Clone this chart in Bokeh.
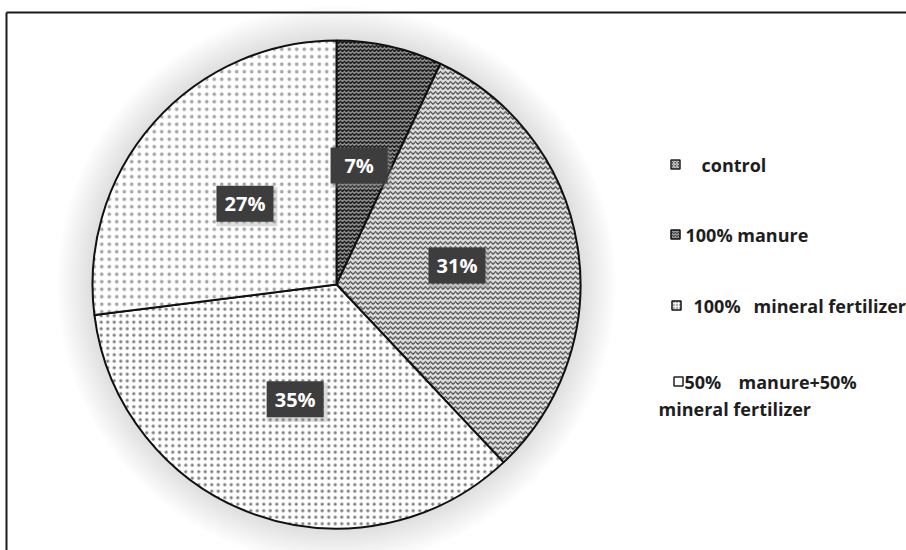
import numpy as np
from bokeh.plotting import figure
from bokeh.models import Range1d
from bokeh.core.properties import value
from bokeh.embed import file_html
from bokeh.resources import INLINE

# ---- data ----
categories = ["control", "100% manure", "100% mineral fertilizer", "50% manure+50% mineral fertilizer"]
values = [7, 31, 35, 27]
pct_labels = ["7%", "31%", "35%", "27%"]

# ---- layout / style ----
W, H = 906, 550
cx, cy = 336, H - 284
R = 244
FONT = "Open Sans"

p = figure(width=W, height=H, x_range=Range1d(0, W), y_range=Range1d(0, H),
           output_backend="svg", toolbar_location=None, min_border=0)
p.axis.visible = False
p.grid.visible = False
p.outline_line_color = None
p.background_fill_color = "white"
p.border_fill_color = "white"

# frame (left and top borders only visible)
p.segment(x0=[6, 6], y0=[H - 12, H - 12], x1=[6, W], y1=[0, H - 12],
          line_color="#1a1a1a", line_width=2)

# soft glow around the pie
for k in range(16, 0, -1):
    p.circle(x=[cx], y=[cy], radius=R + 2.2 * k, fill_color="#8a8a8a",
             fill_alpha=0.016, line_color=None)

vals = np.array(values, dtype=float)
frac = vals / vals.sum()
cum = np.cumsum(frac)
prev = np.concatenate([[0], cum[:-1]])
start = np.pi / 2 - 2 * np.pi * prev
end = np.pi / 2 - 2 * np.pi * cum
mid = (start + end) / 2

styles = [
    dict(fill_color="#8c8c8c", hatch_pattern="horizontal_wave", hatch_color="#1c1c1c", hatch_scale=4, hatch_weight=1.4),
    dict(fill_color="#dcdcdc", hatch_pattern="horizontal_wave", hatch_color="#5a5a5a", hatch_scale=5, hatch_weight=1.3),
    dict(fill_color="#ffffff", hatch_pattern="dot", hatch_color="#7e7e7e", hatch_scale=6.5, hatch_weight=2.6),
    dict(fill_color="#ffffff", hatch_pattern="dot", hatch_color="#a6a6a6", hatch_scale=7.5, hatch_weight=2.4),
]

for i in range(len(values)):
    p.wedge(x=[cx], y=[cy], radius=R, start_angle=[start[i]], end_angle=[end[i]],
            direction="clock", line_color="#111111", line_width=2, **styles[i])

# percentage labels
lr = 0.5 * R
lx = cx + lr * np.cos(mid)
ly = cy + lr * np.sin(mid)
lx[0] -= 4
p.rect(x=lx + 2, y=ly - 3, width=61, height=39, fill_color="#888888", fill_alpha=0.3, line_color=None)
p.rect(x=lx, y=ly, width=57, height=36, fill_color="#3d3d3d", line_color=None)
p.text(x=lx, y=ly, text=pct_labels, text_color="white", text_font=value(FONT),
       text_font_style="bold", text_font_size="20px", text_align="center", text_baseline="middle")

# legend
mk_x = [675, 675, 676, 678]
mk_y = [H - 164, H - 234, H - 305, H - 381]
mk_styles = [
    dict(fill_color="#555555", hatch_pattern="right_diagonal_line", hatch_color="#dddddd", hatch_scale=3, hatch_weight=1, line_color="#222222"),
    dict(fill_color="#999999", hatch_pattern="horizontal_wave", hatch_color="#222222", hatch_scale=3, hatch_weight=1, line_color="#111111"),
    dict(fill_color="#eeeeee", hatch_pattern="dot", hatch_color="#555555", hatch_scale=3, hatch_weight=1, line_color="#111111"),
    dict(fill_color="#ffffff", line_color="#222222"),
]
for i in range(4):
    p.rect(x=[mk_x[i]], y=[mk_y[i]], width=9, height=9, line_width=1.5, **mk_styles[i])

leg_text = ["control", "100% manure", "100%", "mineral fertilizer", "50%", "manure+50%", "mineral fertilizer"]
leg_x = [701, 685, 693, 753, 684, 738, 658]
leg_y = [H - 164, H - 234, H - 305, H - 305, H - 381, H - 381, H - 408]
p.text(x=leg_x, y=leg_y, text=leg_text, text_color="#1e1e1e", text_font=value(FONT),
       text_font_style="bold", text_font_size="18px", text_align="left", text_baseline="middle")

open("out.html", "w").write(file_html(p, INLINE))
